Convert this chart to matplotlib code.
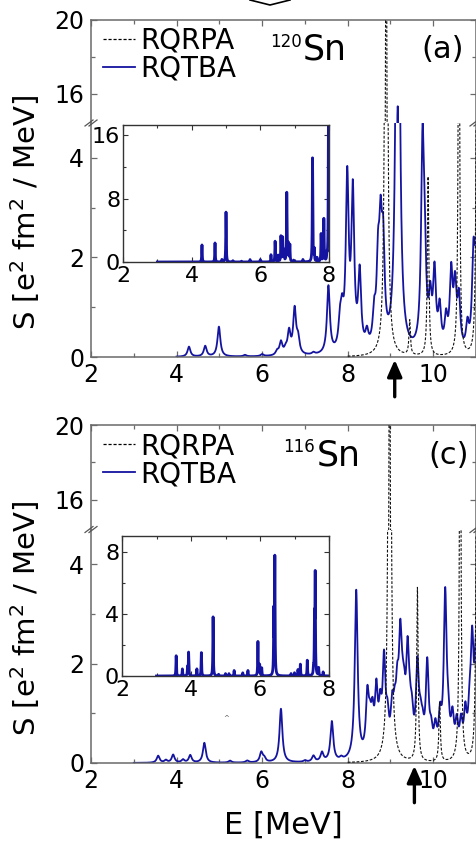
import numpy as np
import matplotlib
matplotlib.use("Agg")
import matplotlib.pyplot as plt
from matplotlib.lines import Line2D
from matplotlib.ticker import FixedLocator

plt.rcParams["font.family"] = ["DejaVu Sans"]
plt.rcParams["mathtext.fontset"] = "dejavusans"

# ---------------------------------------------------------------- data
# Discrete peaks (energy in MeV, peak height in e^2 fm^2 / MeV) folded with a
# Lorentzian of half-width gamma to give the strength function S(E).

# 120Sn, RQTBA, main panel (gamma = 40 keV)
a_tba_E = [4.29, 4.67, 4.99, 5.60, 6.00, 6.35, 6.44, 6.55, 6.63, 6.76, 6.84,
           7.20, 7.55, 7.82, 7.87, 7.99, 8.12, 8.28, 8.45, 8.62, 8.71, 8.77,
           8.83, 9.17, 9.75, 9.80, 9.93, 10.03, 10.15, 10.30, 10.42, 10.51,
           10.60, 10.80, 10.94, 11.00]
a_tba_S = [0.20, 0.21, 0.60, 0.03, 0.04, 0.08, 0.26, 0.10, 0.45, 0.90, 0.30,
           0.04, 1.35, 0.50, 0.60, 3.40, 3.10, 1.50, 0.30, 0.60, 1.50, 2.00,
           1.80, 15.2, 3.90, 1.50, 0.90, 1.50, 0.80, 0.60, 1.50, 1.20,
           1.00, 0.50, 1.80, 1.60]
# 120Sn, RQRPA (gamma = 20 keV)
a_rpa_E = [8.90, 9.45, 9.88, 10.60, 11.02]
a_rpa_S = [30.0, 0.70, 3.60, 9.00, 9.00]
# 120Sn, RQTBA, inset with fine resolution (gamma = 8 keV)
ia_E = [4.30, 4.68, 4.88, 5.00, 5.20, 5.45, 5.70, 6.00, 6.31, 6.43, 6.52,
        6.60, 6.65, 6.69, 6.77, 6.82, 6.86, 6.97, 7.24, 7.52, 7.57, 7.65,
        7.77, 7.85, 7.94, 7.985]
ia_S = [2.15, 2.40, 0.30, 6.30, 0.15, 0.10, 0.30, 0.30, 0.90, 2.60, 0.80,
        3.20, 3.00, 1.40, 8.70, 2.20, 2.10, 0.20, 0.30, 13.1, 1.50, 0.50,
        3.50, 5.40, 0.80, 20.0]

# 116Sn, RQTBA, main panel
c_tba_E = [3.57, 3.75, 3.92, 4.15, 4.32, 4.65, 5.25, 5.65, 5.98, 6.05, 6.44,
           7.00, 7.20, 7.40, 7.63, 7.85, 8.20, 8.46, 8.52, 8.58, 8.67, 8.76,
           8.85, 8.93, 9.04, 9.10, 9.16, 9.23, 9.28, 9.32, 9.40, 9.45, 9.50,
           9.63, 9.70, 9.75, 9.86, 9.95, 10.05, 10.16, 10.28, 10.35, 10.45,
           10.55, 10.65, 10.75, 10.85, 10.91, 11.00]
c_tba_S = [0.14, 0.05, 0.16, 0.06, 0.15, 0.40, 0.04, 0.04, 0.20, 0.08, 1.08,
           0.03, 0.12, 0.18, 0.80, 0.05, 3.40, 1.15, 0.50, 0.70, 1.20, 0.80,
           1.80, 0.60, 0.80, 0.60, 1.00, 2.00, 0.60, 0.70, 1.80, 0.50, 0.60,
           1.70, 0.50, 0.40, 1.80, 0.40, 0.50, 0.70, 3.20, 0.50, 0.70,
           0.60, 0.60, 0.80, 0.70, 2.10, 2.10]
# 116Sn, RQRPA
c_rpa_E = [8.98, 9.63, 10.15, 10.63, 11.02]
c_rpa_S = [30.0, 3.50, 1.20, 9.00, 9.00]
# 116Sn, RQTBA, inset
ic_E = [3.57, 3.75, 3.90, 3.93, 4.17, 4.30, 4.64, 4.80, 5.00, 5.10, 5.25,
        5.50, 5.65, 5.94, 5.99, 6.05, 6.40, 6.43, 6.90, 7.00, 7.10, 7.17,
        7.37, 7.55, 7.58, 7.60, 7.70, 7.83]
ic_S = [1.30, 0.45, 0.55, 1.50, 0.45, 1.50, 3.80, 0.10, 0.15, 0.15, 0.35,
        0.20, 0.35, 2.20, 0.70, 0.50, 4.00, 7.50, 0.15, 0.20, 0.40, 0.75,
        1.00, 0.40, 3.40, 6.30, 0.50, 0.25]

# neutron separation energies (arrows)
Sn_120 = 9.10
Sn_116 = 9.56

x_major = [2, 4, 6, 8, 10]
x_minor = [3, 5, 7, 9, 11]

BLUE = "#1414a0"
SPINE = "#6a6a6a"

W, H = 477, 843
fig = plt.figure(figsize=(W / 100, H / 100), dpi=100)


def rect(l, t, r, b):
    return [l / W, 1 - b / H, (r - l) / W, (b - t) / H]


def strength(E, centers, heights, gamma):
    E = np.asarray(E)[:, None]
    c = np.asarray(centers)[None, :]
    h = np.asarray(heights)[None, :]
    return (h * gamma ** 2 / ((E - c) ** 2 + gamma ** 2)).sum(axis=1)


def style_main(ax, part):
    for s in ax.spines.values():
        s.set_color(SPINE)
        s.set_linewidth(1.1)
    ax.set_xlim(2, 11)
    ax.xaxis.set_major_locator(FixedLocator(x_major))
    ax.xaxis.set_minor_locator(FixedLocator(x_minor))
    ax.tick_params(which="both", direction="in", color=SPINE, width=0.9,
                   labelsize=17, right=True)
    ax.tick_params(which="major", length=4.0)
    ax.tick_params(which="minor", length=3.0)
    ax.tick_params(axis="y", pad=5)
    ax.tick_params(axis="x", pad=4)
    if part == "up":
        ax.set_ylim(14.4, 20)
        ax.yaxis.set_major_locator(FixedLocator([16, 20]))
        ax.yaxis.set_minor_locator(FixedLocator([18]))
        ax.spines["bottom"].set_visible(False)
        ax.tick_params(axis="x", which="both", bottom=False, top=True,
                       labelbottom=False)
    else:
        ax.set_ylim(0, 4.7)
        ax.yaxis.set_major_locator(FixedLocator([0, 2, 4]))
        ax.yaxis.set_minor_locator(FixedLocator([1, 3]))
        ax.spines["top"].set_visible(False)
        ax.tick_params(axis="x", which="both", top=False, bottom=True)


def style_inset(ax, ymax, ymaj, ymin):
    for s in ax.spines.values():
        s.set_color("#333333")
        s.set_linewidth(1.0)
    ax.set_xlim(2, 8)
    ax.set_ylim(0, ymax)
    ax.xaxis.set_major_locator(FixedLocator([2, 4, 6, 8]))
    ax.xaxis.set_minor_locator(FixedLocator([3, 5, 7]))
    ax.yaxis.set_major_locator(FixedLocator(ymaj))
    ax.yaxis.set_minor_locator(FixedLocator(ymin))
    ax.tick_params(which="both", direction="in", top=True, right=True,
                   color="#333333", width=0.8, labelsize=16)
    ax.tick_params(which="major", length=3.5)
    ax.tick_params(which="minor", length=2.5)
    ax.tick_params(axis="x", pad=3)
    ax.tick_params(axis="y", pad=2)


def break_marks(y_px):
    for x_px in (91, 476):
        for dx in (-2.0, 2.0):
            fig.add_artist(Line2D([(x_px + dx - 4) / W, (x_px + dx + 4) / W],
                                  [1 - (y_px + 3) / H, 1 - (y_px - 3) / H],
                                  transform=fig.transFigure, color="#555555",
                                  lw=0.9))


def panel(top, split, bottom, tba_E, tba_S, rpa_E, rpa_S, tba_start,
          ins_rect, ins_E, ins_S, ins_ymax, ins_maj, ins_min,
          mass, label, sn, letter_xy, mass_x, sn_x):
    ax_up = fig.add_axes(rect(91, top, 476, split))
    ax_lo = fig.add_axes(rect(91, split, 476, bottom))
    e_tba = np.linspace(tba_start, 11.2, 9000)
    e_rpa = np.linspace(8.0, 11.2, 9000)
    s_tba = strength(e_tba, tba_E, tba_S, 0.04)
    s_rpa = strength(e_rpa, rpa_E, rpa_S, 0.02)
    for ax, part in ((ax_up, "up"), (ax_lo, "lo")):
        ax.plot(e_tba, s_tba, color=BLUE, lw=1.3, zorder=2)
        ax.plot(e_rpa, s_rpa, color="#111111", lw=0.8, ls=(0, (2.5, 1.5)),
                zorder=3)
        style_main(ax, part)

    handles = [Line2D([], [], color="black", lw=0.9, ls=(0, (2.5, 1.5))),
               Line2D([], [], color=BLUE, lw=1.3)]
    ax_up.legend(handles, ["RQRPA", "RQTBA"], loc="upper left",
                 bbox_to_anchor=(103 / W, 1 - (top + 7) / H),
                 bbox_transform=fig.transFigure, frameon=False, fontsize=20,
                 borderpad=0, borderaxespad=0, handlelength=1.15,
                 handletextpad=0.2, labelspacing=0.0)

    fig.text(mass_x / W, 1 - (top + 13) / H, mass, ha="right", va="top",
             fontsize=12)
    fig.text(sn_x / W, 1 - (top + 40) / H, "Sn", ha="left", va="baseline",
             fontsize=25)
    fig.text(letter_xy[0] / W, 1 - letter_xy[1] / H, label, ha="center",
             va="center", fontsize=22)

    ax_lo.annotate("", xy=(sn, -0.012), xytext=(sn, -0.17),
                   xycoords=("data", "axes fraction"),
                   textcoords=("data", "axes fraction"),
                   arrowprops=dict(arrowstyle="-|>,head_length=0.5,head_width=0.22",
                                   color="black", lw=2.4, mutation_scale=20,
                                   shrinkA=0, shrinkB=0),
                   annotation_clip=False)

    ax_in = fig.add_axes(rect(*ins_rect))
    ax_in.set_facecolor("white")
    e_in = np.linspace(3.0, 8.0, 12000)
    ax_in.plot(e_in, strength(e_in, ins_E, ins_S, 0.008), color=BLUE, lw=2.0)
    style_inset(ax_in, ins_ymax, ins_maj, ins_min)

    break_marks(split)
    fig.text(25 / W, 1 - ((top + bottom) / 2 + 24) / H,
             "S [e$^2$ fm$^2$ / MeV]", rotation=90, ha="center", va="center",
             fontsize=21)


panel(20, 123, 357, a_tba_E, a_tba_S, a_rpa_E, a_rpa_S, 4.0,
      (123, 125, 329, 262), ia_E, ia_S, 17.3, [0, 8, 16], [4, 12],
      "120", "(a)", Sn_120, (443, 50), 302, 303)
panel(425, 529.5, 763, c_tba_E, c_tba_S, c_rpa_E, c_rpa_S, 3.0,
      (122, 536, 329, 676), ic_E, ic_S, 9.0, [0, 4, 8], [2, 6],
      "116", "(c)", Sn_116, (449, 455), 315, 317)

fig.text(283 / W, 1 - 825 / H, "E [MeV]", ha="center", va="center",
         fontsize=22)
fig.text(226 / W, 1 - 718 / H, "^", ha="center", va="center", fontsize=5,
         color="#555555")

# small chevron at the top edge
fig.add_artist(Line2D([250 / W, 270 / W, 290 / W], [1.0, 1 - 5 / H, 1.0],
                      transform=fig.transFigure, color="black", lw=1.2))

fig.savefig("out.png", dpi=100)
